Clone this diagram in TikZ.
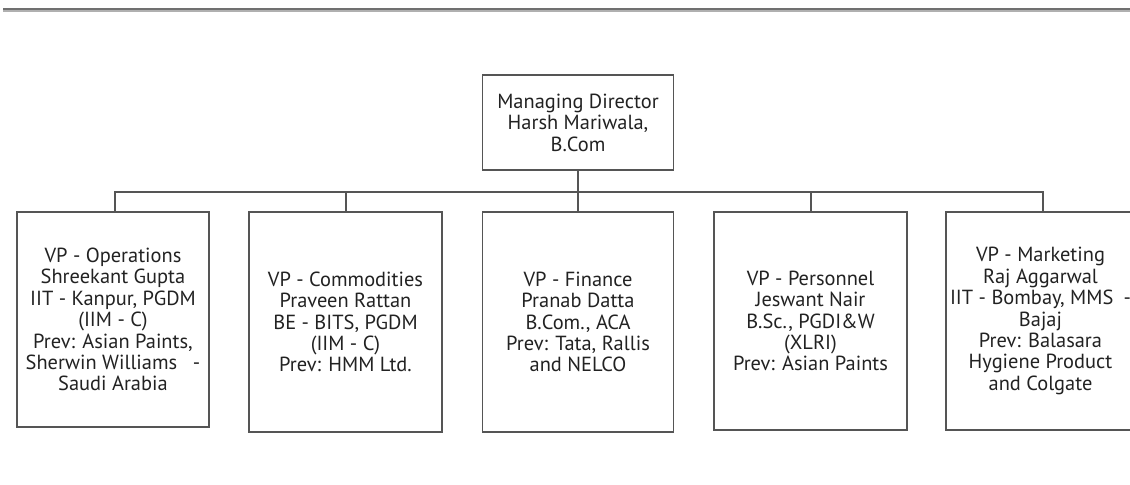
\documentclass[tikz,border=0pt]{standalone}
\usepackage{fontspec}
\setmainfont{PT Sans}
\definecolor{linegray}{HTML}{555555}
\definecolor{textgray}{HTML}{222222}
\definecolor{rulegray}{HTML}{707070}
\begin{document}
\begin{tikzpicture}[x=1bp,y=-1bp,
  orgtext/.style={text=textgray, align=center, inner sep=0pt,
    font=\fontsize{20.5}{21.5}\selectfont},
  orgbox/.style={orgtext, draw=linegray, line width=1.8bp, fill=white},
  frame/.style={draw=linegray, line width=1.8bp, fill=white},
  conn/.style={draw=linegray, line width=2bp}]
\useasboundingbox (0,0) rectangle (1130,485);
\fill[white] (0,0) rectangle (1130,485);
% top rule
\fill[rulegray!55] (3,8) rectangle (1130,12.5);
\fill[rulegray] (3,8) rectangle (1130,10);

\node[orgbox, minimum width=191bp, minimum height=95bp] (md) at (578,122.5)
  {Managing Director\\Harsh Mariwala,\\B.Com};

\node[orgbox, minimum width=192bp, minimum height=215bp] (b1) at (113,319.5)
  {VP - Operations\\Shreekant Gupta\\IIT - Kanpur, PGDM\\(IIM - C)\\Prev: Asian Paints,\\Sherwin Williams\enspace\ -\\Saudi Arabia};
\node[orgbox, minimum width=193bp, minimum height=220bp] (b2) at (345.5,322)
  {VP - Commodities\\Praveen Rattan\\BE - BITS, PGDM\\(IIM - C)\\Prev: HMM Ltd.};
\node[orgbox, minimum width=191bp, minimum height=220bp] (b3) at (578,322)
  {VP - Finance\\Pranab Datta\\B.Com., ACA\\Prev: Tata, Rallis\\and NELCO};
\node[orgbox, minimum width=193bp, minimum height=218bp] (b4) at (810.5,321)
  {VP - Personnel\\Jeswant Nair\\B.Sc., PGDI\&W\\(XLRI)\\Prev: Asian Paints};
% fifth box runs past the right edge of the picture
\path[frame] (946,212) rectangle (1145,430);
\coordinate (b5top) at (1043,212);
\node[orgtext] (b5) at (1040.5,321)
  {VP - Marketing\\Raj Aggarwal\\IIT - Bombay, MMS\enspace -\\Bajaj\\Prev: Balasara\\Hygiene Product\\and Colgate};

\coordinate (j) at (578,192);
\draw[conn] (md.south) -- (j) -- (b3.north);
\draw[conn] (b1.north -| 115,0) |- (j) -| (b5top);
\draw[conn] (b2.north) -- (b2.north |- j);
\draw[conn] (b4.north) -- (b4.north |- j);
\end{tikzpicture}
\end{document}
